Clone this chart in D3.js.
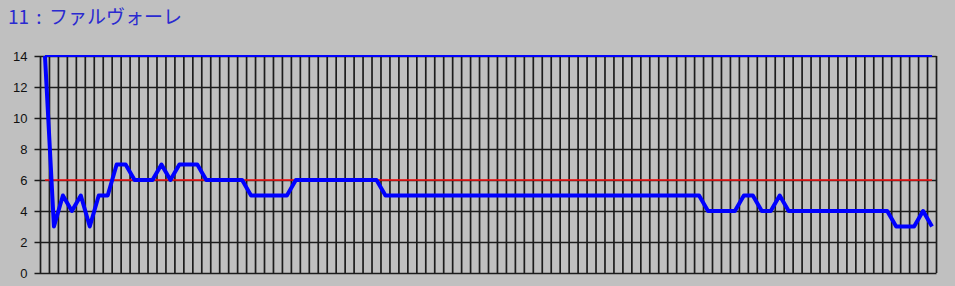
<!DOCTYPE html>
<html>
<head>
<meta charset="utf-8">
<script src="https://cdn.jsdelivr.net/npm/d3@7"></script>
<style>
body { margin: 0; background: #c0c0c0; }
svg { display: block; }
</style>
</head>
<body>
<div id="chart"></div>
<script>
var title = "11 : ファルヴォーレ";
var yTicks = [0, 2, 4, 6, 8, 10, 12, 14];

// rank at each snapshot (100 snapshots)
var rank = [14, 3, 5, 4, 5, 3, 5, 5, 7, 7,
            6, 6, 6, 7, 6, 7, 7, 7, 6, 6,
            6, 6, 6, 5, 5, 5, 5, 5, 6, 6,
            6, 6, 6, 6, 6, 6, 6, 6, 5, 5,
            5, 5, 5, 5, 5, 5, 5, 5, 5, 5,
            5, 5, 5, 5, 5, 5, 5, 5, 5, 5,
            5, 5, 5, 5, 5, 5, 5, 5, 5, 5,
            5, 5, 5, 5, 4, 4, 4, 4, 5, 5,
            4, 4, 5, 4, 4, 4, 4, 4, 4, 4,
            4, 4, 4, 4, 4, 3, 3, 3, 4, 3];
var refLine = 6;     // red reference
var fieldSize = 14;  // blue top line

var width = 955, height = 286;
var margin = {top: 56, right: 18.5, bottom: 13, left: 40.5};

var svg = d3.select("#chart")
    .append("svg")
        .attr("width", width)
        .attr("height", height);

svg.append("rect")
    .attr("width", width)
    .attr("height", height)
    .attr("fill", "#c0c0c0");

var idx = d3.range(rank.length);

var x = d3.scaleBand()
    .domain(idx)
    .range([margin.left, width - margin.right]);

var y = d3.scaleLinear()
    .domain([0, 14])
    .range([height - margin.bottom, margin.top]);

var cx = function (i) { return x(i) + x.bandwidth() / 2; };

// vertical grid, one per band edge
var edges = idx.map(function (i) { return x(i); }).concat([x.range()[1]]);
svg.append("g")
    .selectAll("line")
    .data(edges)
    .enter()
        .append("line")
            .attr("x1", function (d) { return d; })
            .attr("x2", function (d) { return d; })
            .attr("y1", y(14))
            .attr("y2", y(0))
            .attr("stroke", "#1c1c1c")
            .attr("stroke-width", 1.7);

// y axis: ticks + labels, then grid across
var yAxis = d3.axisLeft(y)
    .tickValues(yTicks)
    .tickSize(6)
    .tickPadding(7);

var ga = svg.append("g")
    .attr("transform", "translate(" + margin.left + ",0)")
    .call(yAxis);
ga.select(".domain").remove();
ga.selectAll(".tick line")
    .attr("x2", -6)
    .attr("x1", x.range()[1] - margin.left)
    .attr("stroke", "#1c1c1c")
    .attr("stroke-width", 1.7);
ga.selectAll(".tick text")
    .attr("fill", "#111")
    .style("font-family", "'Liberation Sans', Arial, sans-serif")
    .style("font-size", "13px");

var line = d3.line()
    .x(function (d, i) { return cx(i); })
    .y(function (d) { return y(d); });

svg.append("path")
    .datum(idx.map(function () { return fieldSize; }))
    .attr("d", line)
    .attr("fill", "none")
    .attr("stroke", "#0000ff")
    .attr("stroke-width", 2);

svg.append("path")
    .datum(idx.map(function () { return refLine; }))
    .attr("d", line)
    .attr("fill", "none")
    .attr("stroke", "#ff1010")
    .attr("stroke-width", 1.4);

svg.append("path")
    .datum(rank)
    .attr("d", line)
    .attr("fill", "none")
    .attr("stroke", "#0000ff")
    .attr("stroke-width", 4)
    .attr("stroke-linejoin", "round");

svg.append("text")
    .attr("x", 8)
    .attr("y", 24)
    .attr("fill", "#2a2ad0")
    .style("font-family", "'Noto Sans CJK JP', sans-serif")
    .style("font-size", "19px")
    .style("word-spacing", "3px")
    .text(title);
</script>
</body>
</html>
